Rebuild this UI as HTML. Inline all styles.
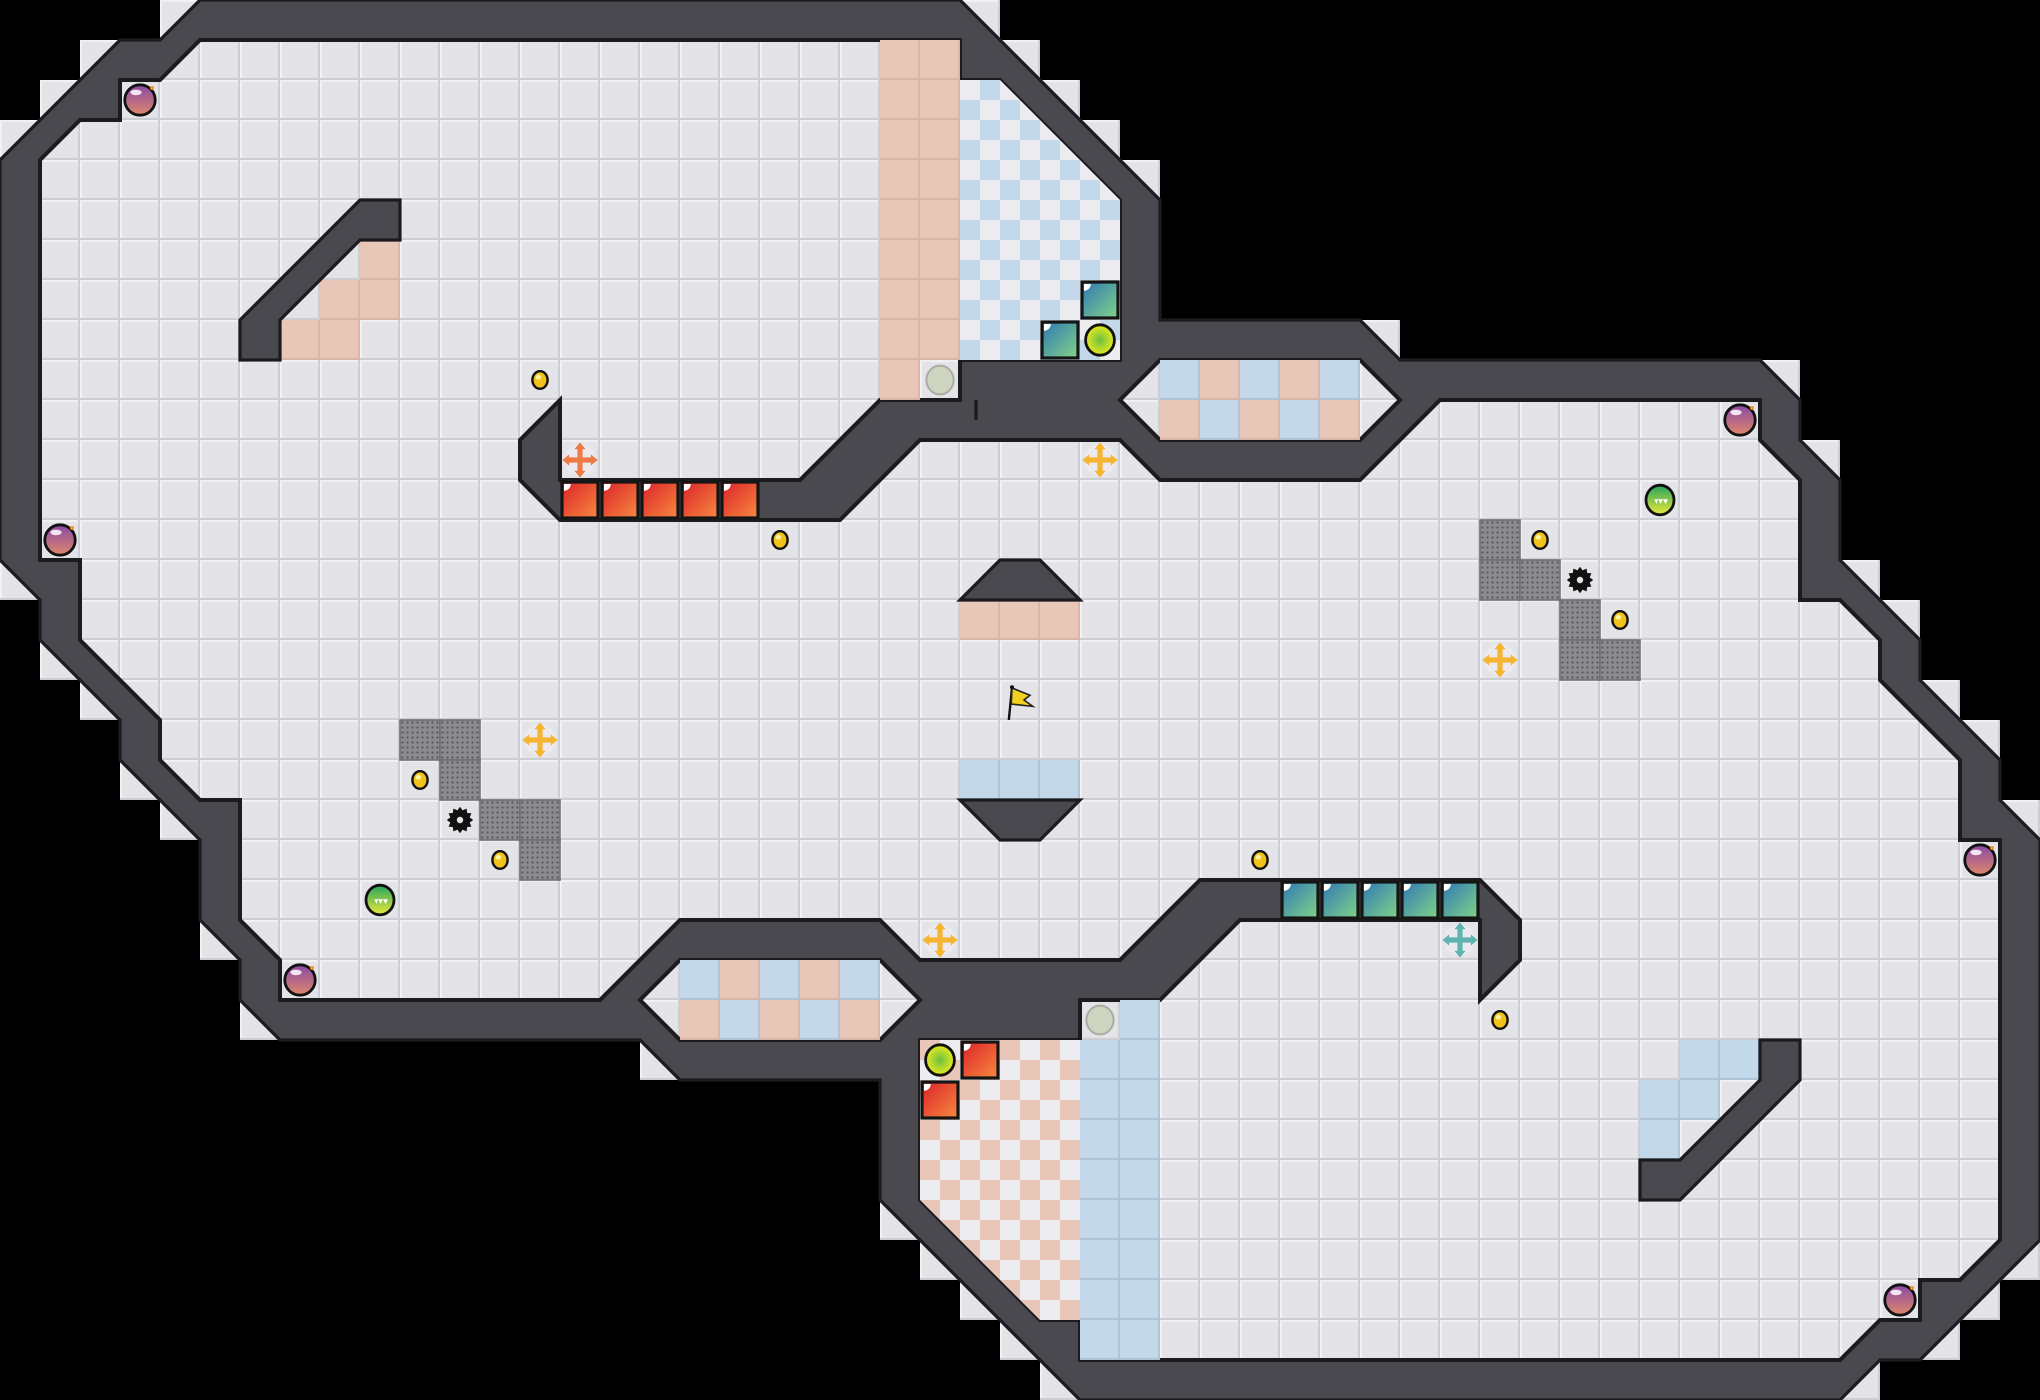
<!DOCTYPE html>
<html><head><meta charset="utf-8"><style>html,body{margin:0;padding:0;background:#000}svg{display:block}</style></head>
<body>
<svg xmlns="http://www.w3.org/2000/svg" width="2040" height="1400" viewBox="0 0 51 35">
<defs>
<pattern id="tile" patternUnits="userSpaceOnUse" width="1" height="1">
<rect width="1" height="1" fill="#e3e3e8"/>
<rect x="0" y="0" width="1" height="0.05" fill="#f1f1f4"/>
<rect x="0" y="0" width="0.05" height="1" fill="#f1f1f4"/>
<rect x="0" y="0.95" width="1" height="0.05" fill="#cdcdd4"/>
<rect x="0.95" y="0" width="0.05" height="1" fill="#cdcdd4"/>
</pattern>
<pattern id="pinkT" patternUnits="userSpaceOnUse" width="1" height="1">
<rect width="1" height="1" fill="#e8c6b8"/>
<rect x="0" y="0.95" width="1" height="0.05" fill="#d9b6a8"/>
<rect x="0.95" y="0" width="0.05" height="1" fill="#d9b6a8"/>
</pattern>
<pattern id="blueT" patternUnits="userSpaceOnUse" width="1" height="1">
<rect width="1" height="1" fill="#c3d8e8"/>
<rect x="0" y="0.95" width="1" height="0.05" fill="#afc5d6"/>
<rect x="0.95" y="0" width="0.05" height="1" fill="#afc5d6"/>
</pattern>
<pattern id="chkB" patternUnits="userSpaceOnUse" width="1" height="1">
<rect width="1" height="1" fill="#ececf0"/>
<rect x="0.5" y="0" width="0.5" height="0.5" fill="#c3d8e8"/>
<rect x="0" y="0.5" width="0.5" height="0.5" fill="#c3d8e8"/>
</pattern>
<pattern id="chkP" patternUnits="userSpaceOnUse" width="1" height="1">
<rect width="1" height="1" fill="#ececf0"/>
<rect x="0" y="0" width="0.5" height="0.5" fill="#e8c6b8"/>
<rect x="0.5" y="0.5" width="0.5" height="0.5" fill="#e8c6b8"/>
</pattern>
<pattern id="mesh" patternUnits="userSpaceOnUse" width="0.125" height="0.125">
<rect width="0.125" height="0.125" fill="#8c8c8f"/>
<circle cx="0.0625" cy="0.0625" r="0.028" fill="#5a5a5e"/>
</pattern>
<linearGradient id="bombG" x1="0" y1="0" x2="0" y2="1"><stop offset="0" stop-color="#8a4aa8"/><stop offset="1" stop-color="#e0866a"/></linearGradient>
<linearGradient id="redG" x1="0" y1="0" x2="1" y2="1"><stop offset="0" stop-color="#dc2228"/><stop offset="1" stop-color="#f78a40"/></linearGradient>
<linearGradient id="tealG" x1="0" y1="0" x2="1" y2="1"><stop offset="0" stop-color="#2f78b4"/><stop offset="1" stop-color="#82d488"/></linearGradient>
<linearGradient id="greenG" x1="0" y1="0" x2="0" y2="1"><stop offset="0" stop-color="#25a35e"/><stop offset="1" stop-color="#eaea3a"/></linearGradient>
<radialGradient id="yelG"><stop offset="0" stop-color="#6cc040"/><stop offset="1" stop-color="#e6ea1e"/></radialGradient>
<clipPath id="fclip"><polygon points="5,1 24,1 24,2 25,2 28,5 28,9 24,9 24,10 22,10 20,12 14,12 14,10 13,11 13,12 14,13 21,13 23,11 28,11 29,12 34,12 36,10 44,10 44,11 45,12 45,15 46,15 47,16 47,17 49,19 49,21 50,21 50,31 49,32 48,32 48,33 47,33 46,34 27,34 27,33 26,33 23,30 23,26 27,26 27,25 29,25 31,23 37,23 37,25 38,24 38,23 37,22 30,22 28,24 23,24 22,23 17,23 15,25 7,25 7,24 6,23 6,20 5,20 4,19 4,18 2,16 2,14 1,14 1,4 2,3 3,3 3,2 4,2"/></clipPath>
<g id="cross">
<circle r="0.4" fill="#ececf0" opacity="0.8"/>
<path d="M-0.3,0 H0.3 M0,-0.3 V0.3" stroke="currentColor" stroke-width="0.13"/>
<polygon points="0.44,0 0.27,-0.14 0.27,0.14" fill="currentColor"/>
<polygon points="-0.44,0 -0.27,-0.14 -0.27,0.14" fill="currentColor"/>
<polygon points="0,0.44 -0.14,0.27 0.14,0.27" fill="currentColor"/>
<polygon points="0,-0.44 -0.14,-0.27 0.14,-0.27" fill="currentColor"/>
</g>
<g id="bomb">
<circle r="0.38" fill="url(#bombG)" stroke="#111" stroke-width="0.07"/>
<ellipse cx="-0.1" cy="-0.19" rx="0.14" ry="0.07" fill="#fff" opacity="0.85"/>
<circle cx="0.3" cy="-0.3" r="0.05" fill="#f0902a"/>
</g>
<g id="coin"><ellipse rx="0.19" ry="0.22" fill="#f2c21a" stroke="#111" stroke-width="0.06"/><ellipse cx="-0.04" cy="-0.07" rx="0.07" ry="0.06" fill="#fff2a0"/></g>
<g id="gear"><polygon fill="#111" points="0.33,0 0.241,0.065 0.286,0.165 0.177,0.177 0.165,0.286 0.065,0.241 0,0.33 -0.065,0.241 -0.165,0.286 -0.177,0.177 -0.286,0.165 -0.241,0.065 -0.33,0 -0.241,-0.065 -0.286,-0.165 -0.177,-0.177 -0.165,-0.286 -0.065,-0.241 0,-0.33 0.065,-0.241 0.165,-0.286 0.177,-0.177 0.286,-0.165 0.241,-0.065"/><circle r="0.08" fill="#e3e3e8"/></g>
<g id="green"><ellipse rx="0.35" ry="0.37" fill="url(#greenG)" stroke="#111" stroke-width="0.07"/><polygon points="-0.2,-0.02 0.2,-0.02 0.14,0.1 0.07,-0.02 0.02,0.1 -0.05,-0.02 -0.09,0.1 -0.14,-0.02" fill="#fff"/></g>
<g id="red"><rect x="0.05" y="0.05" width="0.9" height="0.9" fill="url(#redG)" stroke="#151515" stroke-width="0.08"/><path d="M0.1,0.1 h0.17 a0.17,0.17 0 0 1 -0.17,0.17z" fill="#fff"/></g>
<g id="teal"><rect x="0.05" y="0.05" width="0.9" height="0.9" fill="url(#tealG)" stroke="#151515" stroke-width="0.08"/><path d="M0.1,0.1 h0.17 a0.17,0.17 0 0 1 -0.17,0.17z" fill="#fff"/></g>
<g id="meshb"><rect x="0" y="0" width="1" height="1" fill="url(#mesh)" stroke="#707074" stroke-width="0.04"/></g>
</defs>

<rect width="51" height="35" fill="url(#tile)"/>
<g fill="#000">
<rect x="0" y="0" width="4" height="1"/><rect x="25" y="0" width="26" height="1"/>
<rect x="0" y="1" width="2" height="1"/><rect x="26" y="1" width="25" height="1"/>
<rect x="0" y="2" width="1" height="1"/><rect x="27" y="2" width="24" height="1"/>
<rect x="28" y="3" width="23" height="1"/>
<rect x="29" y="4" width="22" height="4"/>
<rect x="35" y="8" width="16" height="1"/>
<rect x="45" y="9" width="6" height="2"/>
<rect x="46" y="11" width="5" height="3"/>
<rect x="47" y="14" width="4" height="1"/>
<rect x="0" y="15" width="1" height="2"/><rect x="48" y="15" width="3" height="2"/>
<rect x="0" y="17" width="2" height="1"/><rect x="49" y="17" width="2" height="1"/>
<rect x="0" y="18" width="3" height="2"/><rect x="50" y="18" width="1" height="2"/>
<rect x="0" y="20" width="4" height="1"/>
<rect x="0" y="21" width="5" height="3"/>
<rect x="0" y="24" width="6" height="2"/>
<rect x="0" y="26" width="16" height="1"/>
<rect x="0" y="27" width="22" height="4"/>
<rect x="0" y="31" width="23" height="1"/>
<rect x="0" y="32" width="24" height="1"/><rect x="50" y="32" width="1" height="1"/>
<rect x="0" y="33" width="25" height="1"/><rect x="49" y="33" width="2" height="1"/>
<rect x="0" y="34" width="26" height="1"/><rect x="47" y="34" width="4" height="1"/>
</g>

<polygon points="5,0 24,0 29,5 29,8 34,8 35,9 44,9 45,10 45,11 46,12 46,14 48,16 48,17 50,19 50,20 51,21 51,31 48,34 47,34 46,35 27,35 22,30 22,27 17,27 16,26 7,26 6,25 6,24 5,23 5,21 3,19 3,18 1,16 1,15 0,14 0,4 3,1 4,1" fill="#4a4950" stroke="#1c1c20" stroke-width="0.08"/>

<polygon points="5,1 24,1 24,2 25,2 28,5 28,9 24,9 24,10 22,10 20,12 14,12 14,10 13,11 13,12 14,13 21,13 23,11 28,11 29,12 34,12 36,10 44,10 44,11 45,12 45,15 46,15 47,16 47,17 49,19 49,21 50,21 50,31 49,32 48,32 48,33 47,33 46,34 27,34 27,33 26,33 23,30 23,26 27,26 27,25 29,25 31,23 37,23 37,25 38,24 38,23 37,22 30,22 28,24 23,24 22,23 17,23 15,25 7,25 7,24 6,23 6,20 5,20 4,19 4,18 2,16 2,14 1,14 1,4 2,3 3,3 3,2 4,2" fill="url(#tile)" stroke="#1c1c20" stroke-width="0.1"/>

<g clip-path="url(#fclip)">
<rect x="22" y="1" width="2" height="8" fill="url(#pinkT)"/>
<rect x="22" y="9" width="1" height="1" fill="url(#pinkT)"/>
<rect x="24" y="1" width="4" height="8" fill="url(#chkB)"/>
<rect x="27" y="26" width="2" height="8" fill="url(#blueT)"/>
<rect x="28" y="25" width="1" height="1" fill="url(#blueT)"/>
<rect x="23" y="26" width="4" height="8" fill="url(#chkP)"/>
<rect x="24" y="15" width="3" height="1" fill="url(#pinkT)"/>
<rect x="24" y="19" width="3" height="1" fill="url(#blueT)"/>
<rect x="9" y="6" width="1" height="2" fill="url(#pinkT)"/>
<rect x="8" y="7" width="1" height="1" fill="url(#pinkT)"/>
<rect x="7" y="8" width="2" height="1" fill="url(#pinkT)"/>
<rect x="41" y="27" width="1" height="2" fill="url(#blueT)"/>
<rect x="42" y="27" width="1" height="1" fill="url(#blueT)"/>
<rect x="42" y="26" width="2" height="1" fill="url(#blueT)"/>
</g>

<polygon points="28,10 29,9 34,9 35,10 34,11 29,11" fill="url(#tile)" stroke="#1c1c20" stroke-width="0.1"/>
<g>
<rect x="29" y="9" width="1" height="1" fill="url(#blueT)"/><rect x="30" y="9" width="1" height="1" fill="url(#pinkT)"/><rect x="31" y="9" width="1" height="1" fill="url(#blueT)"/><rect x="32" y="9" width="1" height="1" fill="url(#pinkT)"/><rect x="33" y="9" width="1" height="1" fill="url(#blueT)"/>
<rect x="29" y="10" width="1" height="1" fill="url(#pinkT)"/><rect x="30" y="10" width="1" height="1" fill="url(#blueT)"/><rect x="31" y="10" width="1" height="1" fill="url(#pinkT)"/><rect x="32" y="10" width="1" height="1" fill="url(#blueT)"/><rect x="33" y="10" width="1" height="1" fill="url(#pinkT)"/>
</g>
<polygon points="16,25 17,24 22,24 23,25 22,26 17,26" fill="url(#tile)" stroke="#1c1c20" stroke-width="0.1"/>
<g>
<rect x="17" y="24" width="1" height="1" fill="url(#blueT)"/><rect x="18" y="24" width="1" height="1" fill="url(#pinkT)"/><rect x="19" y="24" width="1" height="1" fill="url(#blueT)"/><rect x="20" y="24" width="1" height="1" fill="url(#pinkT)"/><rect x="21" y="24" width="1" height="1" fill="url(#blueT)"/>
<rect x="17" y="25" width="1" height="1" fill="url(#pinkT)"/><rect x="18" y="25" width="1" height="1" fill="url(#blueT)"/><rect x="19" y="25" width="1" height="1" fill="url(#pinkT)"/><rect x="20" y="25" width="1" height="1" fill="url(#blueT)"/><rect x="21" y="25" width="1" height="1" fill="url(#pinkT)"/>
</g>

<g fill="#4a4950" stroke="#1c1c20" stroke-width="0.08">
<polygon points="9,5 10,5 10,6 9,6 7,8 7,9 6,9 6,8"/>
<polygon points="42,30 41,30 41,29 42,29 44,27 44,26 45,26 45,27"/>
<polygon points="25,14 26,14 27,15 24,15"/>
<polygon points="24,20 27,20 26,21 25,21"/>
</g>
<line x1="24.4" y1="10" x2="24.4" y2="10.5" stroke="#1a1a1a" stroke-width="0.08"/>

<use href="#meshb" x="10" y="18"/><use href="#meshb" x="11" y="18"/><use href="#meshb" x="11" y="19"/><use href="#meshb" x="12" y="20"/><use href="#meshb" x="13" y="20"/><use href="#meshb" x="13" y="21"/>
<use href="#meshb" x="37" y="13"/><use href="#meshb" x="37" y="14"/><use href="#meshb" x="38" y="14"/><use href="#meshb" x="39" y="15"/><use href="#meshb" x="39" y="16"/><use href="#meshb" x="40" y="16"/>

<use href="#red" x="14" y="12"/><use href="#red" x="15" y="12"/><use href="#red" x="16" y="12"/><use href="#red" x="17" y="12"/><use href="#red" x="18" y="12"/>
<use href="#teal" x="32" y="22"/><use href="#teal" x="33" y="22"/><use href="#teal" x="34" y="22"/><use href="#teal" x="35" y="22"/><use href="#teal" x="36" y="22"/>
<use href="#teal" x="27" y="7"/><use href="#teal" x="26" y="8"/>
<use href="#red" x="23" y="27"/><use href="#red" x="24" y="26"/>

<ellipse cx="27.5" cy="8.5" rx="0.36" ry="0.38" fill="url(#yelG)" stroke="#111" stroke-width="0.07"/>
<ellipse cx="23.5" cy="26.5" rx="0.36" ry="0.38" fill="url(#yelG)" stroke="#111" stroke-width="0.07"/>
<ellipse cx="23.5" cy="9.5" rx="0.34" ry="0.36" fill="#cdd4bf" stroke="#a9ada2" stroke-width="0.05"/>
<ellipse cx="27.5" cy="25.5" rx="0.34" ry="0.36" fill="#cdd4bf" stroke="#a9ada2" stroke-width="0.05"/>

<use href="#bomb" x="3.5" y="2.5"/><use href="#bomb" x="1.5" y="13.5"/><use href="#bomb" x="7.5" y="24.5"/>
<use href="#bomb" x="43.5" y="10.5"/><use href="#bomb" x="49.5" y="21.5"/><use href="#bomb" x="47.5" y="32.5"/>

<use href="#coin" x="13.5" y="9.5"/><use href="#coin" x="19.5" y="13.5"/><use href="#coin" x="10.5" y="19.5"/><use href="#coin" x="12.5" y="21.5"/>
<use href="#coin" x="37.5" y="25.5"/><use href="#coin" x="31.5" y="21.5"/><use href="#coin" x="40.5" y="15.5"/><use href="#coin" x="38.5" y="13.5"/>

<use href="#gear" x="11.5" y="20.5"/><use href="#gear" x="39.5" y="14.5"/>

<use href="#green" x="9.5" y="22.5"/><use href="#green" x="41.5" y="12.5"/>

<use href="#cross" x="13.5" y="18.5" style="color:#f5b431"/>
<use href="#cross" x="27.5" y="11.5" style="color:#f5b431"/>
<use href="#cross" x="23.5" y="23.5" style="color:#f5b431"/>
<use href="#cross" x="37.5" y="16.5" style="color:#f5b431"/>
<use href="#cross" x="14.5" y="11.5" style="color:#ee7a46"/>
<use href="#cross" x="36.5" y="23.5" style="color:#5fb4b0"/>

<line x1="25.22" y1="18.0" x2="25.3" y2="17.2" stroke="#111" stroke-width="0.06"/>
<polygon points="25.3,17.2 25.75,17.38 25.6,17.5 25.82,17.66 25.28,17.6" fill="#f0d020" stroke="#222" stroke-width="0.04"/>
<circle cx="25.3" cy="17.18" r="0.05" fill="#111"/>
</svg>
</body></html>
